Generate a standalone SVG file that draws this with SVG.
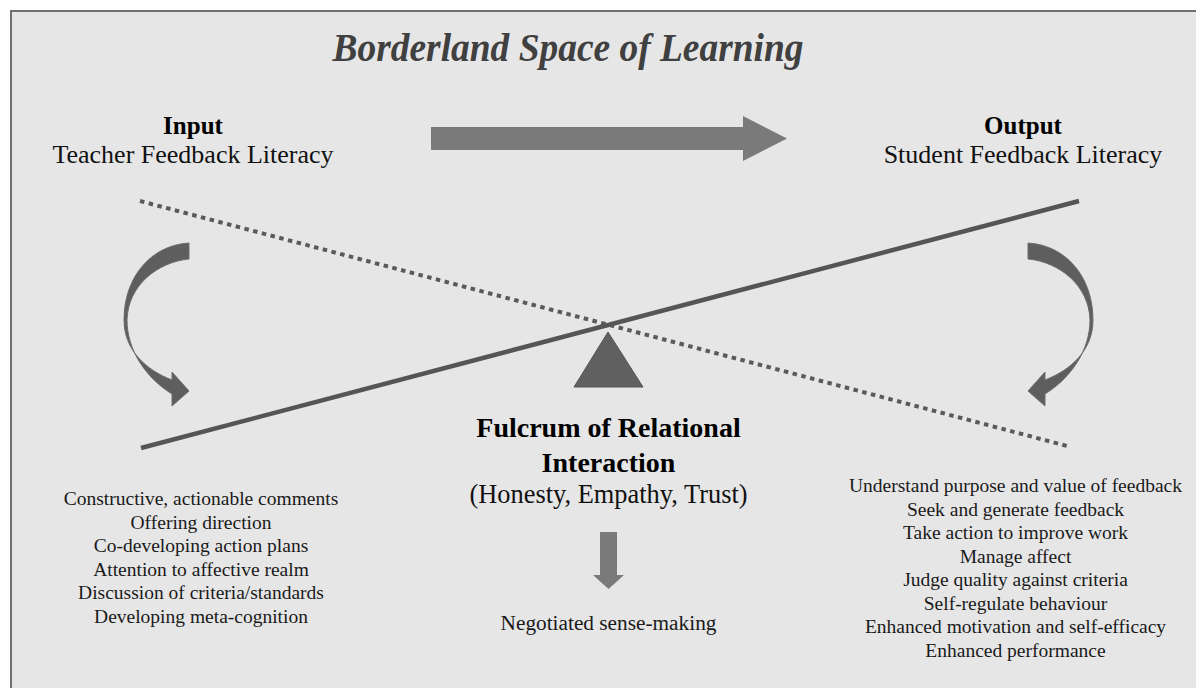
<svg xmlns="http://www.w3.org/2000/svg" width="1196" height="688" viewBox="0 0 1196 688">
<style>
.t{font-family:"Liberation Serif","Times New Roman",serif;text-anchor:middle}
.h{font-size:25px;font-weight:bold;fill:#000}
.s{font-size:26px;fill:#111}
.l{font-size:19.5px;fill:#1a1a1a}
.arr{fill:#7a7a7a}
.carr{fill:#5e5e5e;stroke:#6e6e6e;stroke-width:1}
</style>
<rect x="0" y="0" width="1196" height="688" fill="#ffffff"/>
<rect id="frame" x="11" y="11" width="1200" height="700" fill="#e6e6e6" stroke="#707070" stroke-width="2"/>
<g id="title"><text class="t" x="568" y="61" font-size="40" font-weight="bold" font-style="italic" fill="#404040" textLength="471" lengthAdjust="spacingAndGlyphs">Borderland Space of Learning</text></g>
<g id="input"><text class="t h" x="193" y="134">Input</text><text class="t s" x="193" y="163">Teacher Feedback Literacy</text></g>
<g id="output"><text class="t h" x="1023" y="134">Output</text><text class="t s" x="1023" y="163">Student Feedback Literacy</text></g>
<g id="connectors">
<path class="arr" d="M431,127 L743,127 L743,116 L787,138.5 L743,161 L743,150 L431,150 Z"/>
<line x1="140" y1="201" x2="1071" y2="447" stroke="#5a5a5a" stroke-width="4" stroke-dasharray="4.5 4.5"/>
<line x1="141" y1="448" x2="1079" y2="201" stroke="#555555" stroke-width="4.5"/>
<path class="carr" d="M189,243 L189,259 C158,262 128,285 127,320 C127,350 146,378 172,394 L172,406 L189,391 L172,372 L172,380 C146,370 124,350 124,320 C124,276 152,245 189,243 Z"/>
<path class="carr" d="M1028,243 L1028,259 C1059,262 1089,285 1090,320 C1090,350 1071,378 1045,394 L1045,406 L1028,391 L1045,372 L1045,380 C1071,370 1093,350 1093,320 C1093,276 1065,245 1028,243 Z"/>
<path class="arr" d="M600,532 L617,532 L617,575 L624,575 L608.5,589 L593,575 L600,575 Z"/>
</g>
<g id="fulcrum">
<polygon points="608,332 574,387 643,387" fill="#606060" stroke="#555" stroke-width="1"/>
<text class="t h" x="608.5" y="437" style="font-size:28px">Fulcrum of Relational</text>
<text class="t h" x="608.5" y="472" style="font-size:28px">Interaction</text>
<text class="t s" x="608.5" y="503" style="font-size:26.4px">(Honesty, Empathy, Trust)</text>
<text class="t l" x="608.5" y="630" style="font-size:21.3px">Negotiated sense-making</text>
</g>
<g id="teacher-list">
<text class="t l" x="201" y="505">Constructive, actionable comments</text>
<text class="t l" x="201" y="528.5">Offering direction</text>
<text class="t l" x="201" y="552">Co-developing action plans</text>
<text class="t l" x="201" y="575.5">Attention to affective realm</text>
<text class="t l" x="201" y="599">Discussion of criteria/standards</text>
<text class="t l" x="201" y="622.5">Developing meta-cognition</text>
</g>
<g id="student-list">
<text class="t l" x="1015.5" y="492">Understand purpose and value of feedback</text>
<text class="t l" x="1015.5" y="515.5">Seek and generate feedback</text>
<text class="t l" x="1015.5" y="539">Take action to improve work</text>
<text class="t l" x="1015.5" y="562.5">Manage affect</text>
<text class="t l" x="1015.5" y="586">Judge quality against criteria</text>
<text class="t l" x="1015.5" y="609.5">Self-regulate behaviour</text>
<text class="t l" x="1015.5" y="633">Enhanced motivation and self-efficacy</text>
<text class="t l" x="1015.5" y="656.5">Enhanced performance</text>
</g>
</svg>
